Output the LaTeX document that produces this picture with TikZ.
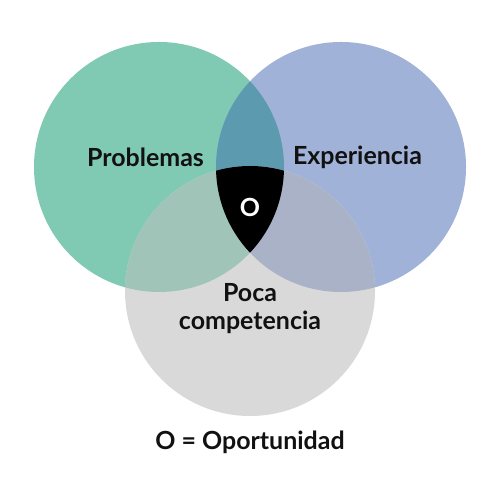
\documentclass[tikz,border=0pt]{standalone}
\usepackage{fontspec}
\setmainfont{Lato}
\definecolor{prob}{RGB}{128,201,178}
\definecolor{expe}{RGB}{160,178,215}
\definecolor{comp}{RGB}{217,217,217}
\definecolor{probexpe}{RGB}{92,155,175}
\definecolor{probcomp}{RGB}{160,196,184}
\definecolor{expecomp}{RGB}{170,178,200}
\definecolor{ink}{RGB}{17,17,17}
\begin{document}
\begin{tikzpicture}[label/.style={font=\fontsize{14.2}{16}\selectfont\bfseries, text=ink, inner sep=0pt, align=center}]
  \useasboundingbox (0,0) rectangle (10,10);
  \coordinate (P) at (3.18,6.66);
  \coordinate (E) at (6.82,6.66);
  \coordinate (C) at (5,4.18);
  \fill[prob] (P) circle (2.5);
  \fill[expe] (E) circle (2.5);
  \fill[comp] (C) circle (2.5);
  \begin{scope}
    \clip (P) circle (2.5);
    \fill[probexpe] (E) circle (2.5);
    \fill[probcomp] (C) circle (2.5);
  \end{scope}
  \begin{scope}
    \clip (E) circle (2.5);
    \fill[expecomp] (C) circle (2.5);
    \clip (P) circle (2.5);
    \fill[black] (C) circle (2.5);
  \end{scope}
  \node[label] (prob) at (2.91,6.86) {Problemas};
  \node[label] (expe) at (7.15,6.86) {Experiencia};
  \node[label] (comp) at (5,3.83) {Poca\\competencia};
  \node[label, text=white] (opor) at (5,5.86) {O};
  \node[label] (legend) at (5,1.16) {O = Oportunidad};
\end{tikzpicture}
\end{document}
